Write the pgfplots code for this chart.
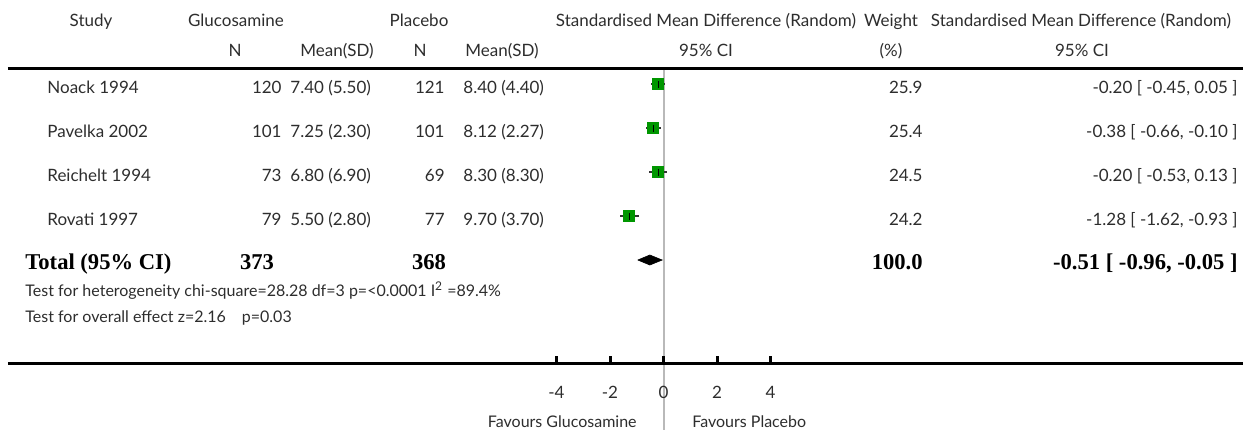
\documentclass[border=0pt]{standalone}
\usepackage{pgfplots}
\usepackage{pgfplotstable}
\pgfplotsset{compat=1.18}
\usepackage{fontspec}
\setmainfont{Lato}
\newfontfamily\bserif{Liberation Serif}
\definecolor{boxgreen}{RGB}{0,150,0}
\definecolor{txtc}{RGB}{45,45,45}
\pgfplotstableread{
y   smd    em    ep
84  -0.20  0.25  0.25
128 -0.38  0.28  0.28
172 -0.20  0.33  0.33
216 -1.28  0.34  0.35
}\studies
\begin{document}
\begin{tikzpicture}[
 t/.style={font=\fontsize{8.5}{10}\selectfont, text=txtc, inner sep=0pt},
 b/.style={font=\bserif\bfseries\fontsize{11.3}{13}\selectfont, text=black, inner sep=0pt},
 s/.style={font=\fontsize{8}{9.5}\selectfont, text=txtc, inner sep=0pt}]
\begin{axis}[
 name=ax, scale only axis, width=629.5pt, height=215pt,
 xmin=-24.804, xmax=22.262, ymin=0, ymax=430, y dir=reverse,
 hide axis, clip=false]
% reference line at 0
\draw[gray!55, line width=1pt] (axis cs:0,68) -- (axis cs:0,430);
% rules
\draw[black, line width=1.5pt] (axis cs:-24.505,68) -- (axis cs:21.664,68);
\draw[black, line width=1.5pt] (axis cs:-24.505,363) -- (axis cs:21.664,363);
\draw[black, line width=1.5pt] (axis cs:-4,363) -- (axis cs:-4,356);
\draw[black, line width=1.5pt] (axis cs:-2,363) -- (axis cs:-2,356);
\draw[black, line width=1.5pt] (axis cs:0,363) -- (axis cs:0,356);
\draw[black, line width=1.5pt] (axis cs:2,363) -- (axis cs:2,356);
\draw[black, line width=1.5pt] (axis cs:4,363) -- (axis cs:4,356);
\node[t, anchor=base] at (axis cs:-4,398) {-4};
\node[t, anchor=base] at (axis cs:-2,398) {-2};
\node[t, anchor=base] at (axis cs:0,398) {0};
\node[t, anchor=base] at (axis cs:2,398) {2};
\node[t, anchor=base] at (axis cs:4,398) {4};
% study boxes
\addplot[only marks, mark=square*, color=boxgreen, mark size=2.75pt] table[x=smd, y=y] {\studies};
\addplot[only marks, mark=|, mark size=1.75pt, black, line width=0.6pt,
  error bars/.cd, x dir=both, x explicit, error mark=none,
  error bar style={line width=1pt, black!80}]
  table[x=smd, y=y, x error plus=ep, x error minus=em] {\studies};
% pooled diamond
\addplot[fill=black, draw=black, line width=0.3pt] coordinates {(-0.96,260) (-0.51,255) (-0.05,260) (-0.51,265) (-0.96,260)};
% headers
\node[t, anchor=base] at (axis cs:-21.402,26) {Study};
\node[t, anchor=base] at (axis cs:-15.981,26) {Glucosamine};
\node[t, anchor=base] at (axis cs:-9.140,26) {Placebo};
\node[t, anchor=base] at (axis cs:1.589,26) {Standardised Mean Difference (Random)};
\node[t, anchor=base] at (axis cs:8.505,26) {Weight};
\node[t, anchor=base] at (axis cs:15.607,26) {Standardised Mean Difference (Random)};
\node[t, anchor=base] at (axis cs:-16.019,56) {N};
\node[t, anchor=base] at (axis cs:-12.206,56) {Mean(SD)};
\node[t, anchor=base] at (axis cs:-9.103,56) {N};
\node[t, anchor=base] at (axis cs:-6.037,56) {Mean(SD)};
\node[t, anchor=base] at (axis cs:1.589,56) {95\% CI};
\node[t, anchor=base] at (axis cs:8.505,56) {(\%)};
\node[t, anchor=base] at (axis cs:15.645,56) {95\% CI};
% rows
\node[t, anchor=base west] at (axis cs:-23.047,93) {Noack 1994};
\node[t, anchor=base east] at (axis cs:-14.262,93) {120};
\node[t, anchor=base west] at (axis cs:-13.963,93) {7.40 (5.50)};
\node[t, anchor=base east] at (axis cs:-8.168,93) {121};
\node[t, anchor=base west] at (axis cs:-7.495,93) {8.40 (4.40)};
\node[t, anchor=base east] at (axis cs:9.701,93) {25.9};
\node[t, anchor=base east] at (axis cs:21.477,93) {-0.20 [ -0.45, 0.05 ]};
\node[t, anchor=base west] at (axis cs:-23.047,137) {Pavelka 2002};
\node[t, anchor=base east] at (axis cs:-14.262,137) {101};
\node[t, anchor=base west] at (axis cs:-13.963,137) {7.25 (2.30)};
\node[t, anchor=base east] at (axis cs:-8.168,137) {101};
\node[t, anchor=base west] at (axis cs:-7.495,137) {8.12 (2.27)};
\node[t, anchor=base east] at (axis cs:9.701,137) {25.4};
\node[t, anchor=base east] at (axis cs:21.477,137) {-0.38 [ -0.66, -0.10 ]};
\node[t, anchor=base west] at (axis cs:-23.047,181) {Reichelt 1994};
\node[t, anchor=base east] at (axis cs:-14.262,181) {73};
\node[t, anchor=base west] at (axis cs:-13.963,181) {6.80 (6.90)};
\node[t, anchor=base east] at (axis cs:-8.168,181) {69};
\node[t, anchor=base west] at (axis cs:-7.495,181) {8.30 (8.30)};
\node[t, anchor=base east] at (axis cs:9.701,181) {24.5};
\node[t, anchor=base east] at (axis cs:21.477,181) {-0.20 [ -0.53, 0.13 ]};
\node[t, anchor=base west] at (axis cs:-23.047,225) {Rovati 1997};
\node[t, anchor=base east] at (axis cs:-14.262,225) {79};
\node[t, anchor=base west] at (axis cs:-13.963,225) {5.50 (2.80)};
\node[t, anchor=base east] at (axis cs:-8.168,225) {77};
\node[t, anchor=base west] at (axis cs:-7.495,225) {9.70 (3.70)};
\node[t, anchor=base east] at (axis cs:9.701,225) {24.2};
\node[t, anchor=base east] at (axis cs:21.477,225) {-1.28 [ -1.62, -0.93 ]};
% total
\node[b, anchor=base west] at (axis cs:-23.869,269) {Total (95\% CI)};
\node[b, anchor=base] at (axis cs:-15.196,269) {373};
\node[b, anchor=base] at (axis cs:-8.766,269) {368};
\node[b, anchor=base east] at (axis cs:9.701,269) {100.0};
\node[b, anchor=base east] at (axis cs:21.477,269) {-0.51 [ -0.96, -0.05 ]};
% tests
\node[s, anchor=base west] at (axis cs:-23.869,296) {Test for heterogeneity chi-square=28.28 df=3 p=<0.0001 I\textsuperscript{2} =89.4\%};
\node[s, anchor=base west] at (axis cs:-23.869,322) {Test for overall effect z=2.16\quad p=0.03};
% favours
\node[s, anchor=base east] at (axis cs:-0.991,427) {Favours Glucosamine};
\node[s, anchor=base west] at (axis cs:1.065,427) {Favours Placebo};
\coordinate (bbA) at (rel axis cs:0,0);
\coordinate (bbB) at (rel axis cs:1,1);
\end{axis}
\pgfresetboundingbox
\path[use as bounding box] (bbA) rectangle (bbB);
\end{tikzpicture}
\end{document}
